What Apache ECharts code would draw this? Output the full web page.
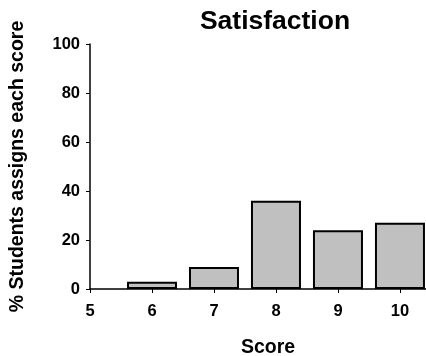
<!DOCTYPE html>
<html><head><meta charset="utf-8">
<script src="https://cdn.jsdelivr.net/npm/echarts@6/dist/echarts.min.js"></script>
<style>html,body{margin:0;padding:0;background:#fff}#c{width:426px;height:356px}</style>
</head><body><div id="c"></div>
<script>
const scores = [6, 7, 8, 9, 10];
const percents = [3, 9, 36, 24, 27];
const yTicks = [0, 20, 40, 60, 80, 100];
const xTicks = [5, 6, 7, 8, 9, 10];

const chart = echarts.init(document.getElementById('c'), null, {renderer: 'canvas'});
const font = 'Liberation Sans, Arial, sans-serif';
chart.setOption({
  animation: false,
  title: {text: 'Satisfaction', left: 270, top: 3, textAlign: 'center',
    textStyle: {fontFamily: font, fontWeight: 'bold', fontSize: 26.5, color: '#000'}},
  grid: {left: 90, right: 0, top: 44, bottom: 67, containLabel: false, outerBoundsMode: 'none'},
  xAxis: {type: 'value', min: 5, max: 10.42, interval: 1,
    name: 'Score', nameLocation: 'middle', nameGap: 49,
    nameTextStyle: {fontFamily: font, fontWeight: 'bold', fontSize: 19.5, color: '#000', padding: [0, 0, 0, 20]},
    axisLine: {lineStyle: {color: '#000', width: 1.5}},
    axisTick: {show: true, length: 4, lineStyle: {color: '#000'}},
    splitLine: {show: false},
    axisLabel: {fontFamily: font, fontWeight: 'bold', fontSize: 16.5, color: '#000', margin: 14,
      formatter: v => xTicks.includes(v) ? String(v) : ''}},
  yAxis: {type: 'value', min: 0, max: 100, interval: 20,
    name: '% Students assigns each score', nameLocation: 'middle', nameGap: 62,
    nameTextStyle: {fontFamily: font, fontWeight: 'bold', fontSize: 19.5, color: '#000'},
    axisLine: {show: true, lineStyle: {color: '#000', width: 1.5}},
    axisTick: {show: true, length: 4, lineStyle: {color: '#000'}},
    splitLine: {show: false},
    axisLabel: {fontFamily: font, fontWeight: 'bold', fontSize: 16.5, color: '#000', margin: 10,
      formatter: v => yTicks.includes(v) ? String(v) : ''}},
  series: [{type: 'bar', data: scores.map((s, i) => [s, percents[i]]), barWidth: 50,
    itemStyle: {color: '#c0c0c0', borderColor: '#000', borderWidth: 2}}]
});
</script></body></html>
